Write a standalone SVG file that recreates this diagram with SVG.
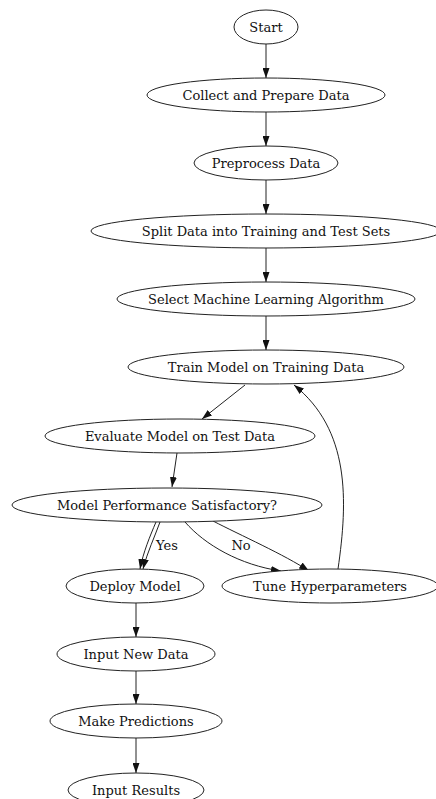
<svg xmlns="http://www.w3.org/2000/svg" width="436" height="799" viewBox="0 0 436 799">
<style>
ellipse{fill:#fff;stroke:#222;stroke-width:1}
text{font-family:"DejaVu Serif","Liberation Serif",serif;font-size:13px;fill:#111;text-anchor:middle}
.e{fill:none;stroke:#222;stroke-width:1}
</style>
<defs>
<marker id="a" viewBox="0 0 10 7" refX="10" refY="3.5" markerWidth="10" markerHeight="7" markerUnits="userSpaceOnUse" orient="auto"><path d="M0,0 L10,3.5 L0,7 z" fill="#111"/></marker>
</defs>
<rect width="436" height="799" fill="#fff"/>
<g id="edges">
<path class="e" marker-end="url(#a)" d="M266,44 L266,78"/>
<path class="e" marker-end="url(#a)" d="M266,112 L266,146"/>
<path class="e" marker-end="url(#a)" d="M266,180 L266,214"/>
<path class="e" marker-end="url(#a)" d="M266,248 L266,282"/>
<path class="e" marker-end="url(#a)" d="M266,316 L266,350"/>
<path class="e" marker-end="url(#a)" d="M245,385 L202,419"/>
<path class="e" marker-end="url(#a)" d="M177,453 L172,487"/>
<path class="e" marker-end="url(#a)" d="M160,522 C155,536 147,553 143,569"/>
<path class="e" marker-end="url(#a)" d="M156,522 C150,536 143,553 140,569"/>
<path class="e" marker-end="url(#a)" d="M185,522 C205,545 240,565 281,571"/>
<path class="e" marker-end="url(#a)" d="M213,521 C240,535 285,555 309,571"/>
<path class="e" marker-end="url(#a)" d="M338,569 C348,500 350,430 294,385"/>
<path class="e" marker-end="url(#a)" d="M136,603 L136,637"/>
<path class="e" marker-end="url(#a)" d="M136,671 L136,704"/>
<path class="e" marker-end="url(#a)" d="M136,738 L136,773"/>
<text x="167" y="550">Yes</text>
<text x="241" y="550">No</text>
</g>
<g id="start"><ellipse cx="266" cy="27" rx="32" ry="17"/><text x="266" y="31.5">Start</text></g>
<g id="collect"><ellipse cx="266" cy="95" rx="119" ry="17"/><text x="266" y="99.5">Collect and Prepare Data</text></g>
<g id="preprocess"><ellipse cx="266" cy="163" rx="72" ry="17"/><text x="266" y="167.5">Preprocess Data</text></g>
<g id="split"><ellipse cx="266" cy="231" rx="175" ry="17"/><text x="266" y="235.5">Split Data into Training and Test Sets</text></g>
<g id="select"><ellipse cx="266" cy="299" rx="149" ry="17"/><text x="266" y="303.5">Select Machine Learning Algorithm</text></g>
<g id="train"><ellipse cx="266" cy="367" rx="138" ry="17"/><text x="266" y="371.5">Train Model on Training Data</text></g>
<g id="evaluate"><ellipse cx="180" cy="436" rx="135" ry="17"/><text x="180" y="440.5">Evaluate Model on Test Data</text></g>
<g id="satisfactory"><ellipse cx="167" cy="505" rx="155" ry="17"/><text x="167" y="509.5">Model Performance Satisfactory?</text></g>
<g id="deploy"><ellipse cx="135" cy="586" rx="69" ry="17"/><text x="135" y="590.5">Deploy Model</text></g>
<g id="tune"><ellipse cx="330" cy="586" rx="108" ry="17"/><text x="330" y="590.5">Tune Hyperparameters</text></g>
<g id="newdata"><ellipse cx="136" cy="654" rx="79" ry="17"/><text x="136" y="658.5">Input New Data</text></g>
<g id="predict"><ellipse cx="136" cy="721" rx="86" ry="17"/><text x="136" y="725.5">Make Predictions</text></g>
<g id="results"><ellipse cx="136" cy="790" rx="68" ry="17"/><text x="136" y="794.5">Input Results</text></g>
</svg>
